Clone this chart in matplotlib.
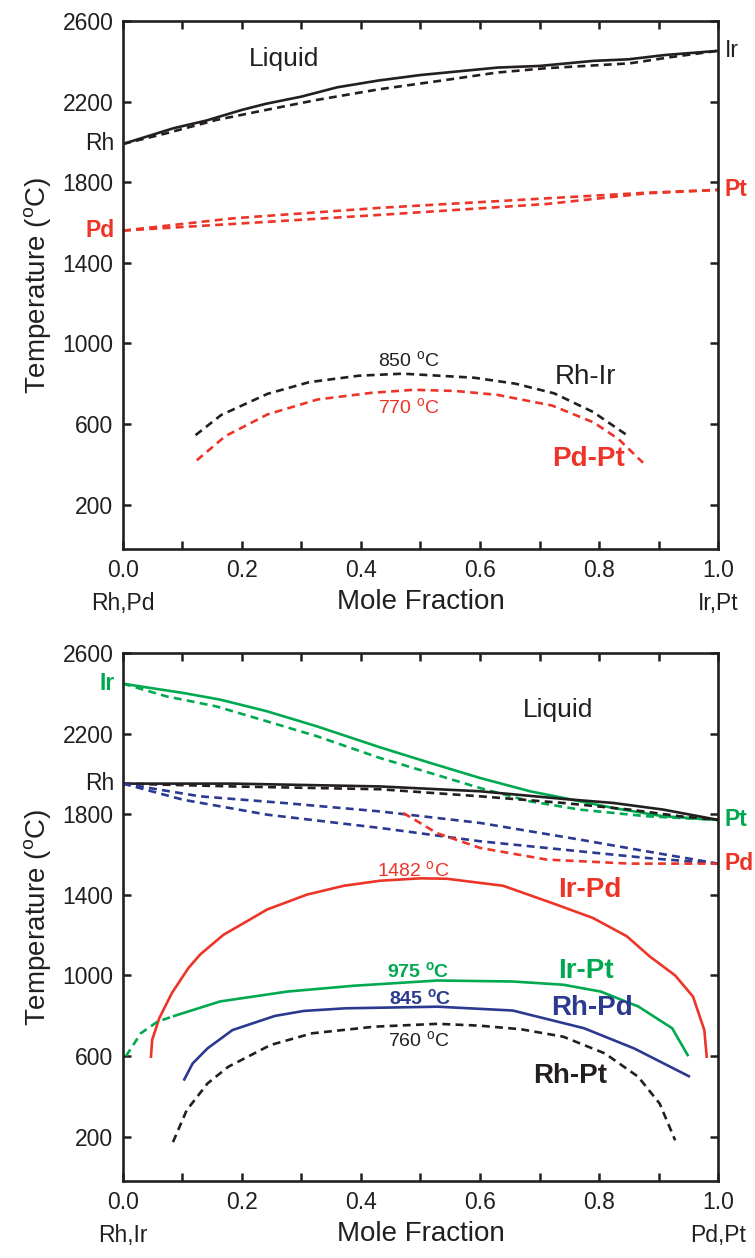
import matplotlib
matplotlib.use("Agg")
import matplotlib.pyplot as plt
from matplotlib.ticker import MultipleLocator, FixedLocator

plt.rcParams['font.family'] = ['Liberation Sans', 'DejaVu Sans']
plt.rcParams['mathtext.default'] = 'regular'

RED = '#ec3528'
GREEN = '#00a94f'
BLUE = '#2b3990'
BLACK = '#231f20'

# ---- upper panel: Rh-Ir and Pd-Pt ----
rhir_liq_x = [0, 0.085, 0.14, 0.2, 0.24, 0.3, 0.36, 0.43, 0.5, 0.63, 0.7, 0.79, 0.85, 0.91, 1.0]
rhir_liq_t = [1990, 2068, 2106, 2159, 2189, 2225, 2271, 2305, 2332, 2369, 2377, 2402, 2410, 2431, 2452]
rhir_sol_x = [0, 0.073, 0.157, 0.241, 0.325, 0.43, 0.544, 0.628, 0.712, 0.852, 0.919, 1.0]
rhir_sol_t = [1990, 2043, 2109, 2159, 2208, 2261, 2308, 2344, 2366, 2390, 2420, 2452]

pdpt_x = [0, 0.185, 0.432, 0.712, 0.88, 1.0]
pdpt_liq_t = [1560, 1621, 1673, 1720, 1748, 1762]
pdpt_sol_t = [1560, 1593, 1638, 1692, 1745, 1762]

rhir_gap_x = [0.122, 0.165, 0.243, 0.313, 0.397, 0.47, 0.59, 0.66, 0.725, 0.79, 0.847]
rhir_gap_t = [545, 645, 750, 808, 840, 850, 830, 800, 752, 660, 545]
pdpt_gap_x = [0.124, 0.172, 0.243, 0.327, 0.418, 0.489, 0.559, 0.629, 0.721, 0.791, 0.833, 0.874]
pdpt_gap_t = [420, 540, 648, 722, 755, 770, 764, 745, 692, 608, 525, 408]

# ---- lower panel: Ir-Pt, Rh-Pt, Rh-Pd, Ir-Pd ----
irpt_liq_x = [0, 0.045, 0.101, 0.163, 0.242, 0.326, 0.432, 0.516, 0.6, 0.684, 0.74, 0.824, 0.908, 1.0]
irpt_liq_t = [2448, 2427, 2402, 2369, 2311, 2236, 2132, 2055, 1980, 1914, 1881, 1831, 1790, 1772]
irpt_sol_x = [0, 0.073, 0.157, 0.242, 0.326, 0.432, 0.516, 0.6, 0.684, 0.768, 0.88, 1.0]
irpt_sol_t = [2448, 2385, 2335, 2261, 2187, 2079, 2005, 1930, 1864, 1823, 1790, 1772]

rhpt_liq_x = [0, 0.185, 0.432, 0.6, 0.74, 0.824, 0.908, 1.0]
rhpt_liq_t = [1952, 1952, 1938, 1914, 1876, 1856, 1823, 1772]
rhpt_sol_x = [0, 0.185, 0.432, 0.6, 0.74, 0.852, 0.936, 1.0]
rhpt_sol_t = [1952, 1938, 1924, 1889, 1856, 1823, 1790, 1772]

rhpd_liq_x = [0, 0.129, 0.27, 0.432, 0.6, 0.768, 0.88, 1.0]
rhpd_liq_t = [1952, 1889, 1856, 1814, 1757, 1674, 1616, 1555]
rhpd_sol_x = [0, 0.101, 0.242, 0.432, 0.6, 0.768, 0.88, 1.0]
rhpd_sol_t = [1952, 1872, 1798, 1732, 1666, 1616, 1583, 1555]

irpd_liq_x = [0.471, 0.488, 0.527, 0.6, 0.712, 0.852, 1.0]
irpd_liq_t = [1806, 1777, 1707, 1633, 1575, 1555, 1555]

irpd_gap_x = [0.047, 0.049, 0.061, 0.082, 0.11, 0.13, 0.169, 0.213, 0.242, 0.309, 0.371,
              0.432, 0.5, 0.544, 0.639, 0.729, 0.79, 0.847, 0.885, 0.928, 0.958, 0.977, 0.981]
irpd_gap_t = [597, 680, 788, 912, 1037, 1105, 1202, 1277, 1327, 1401, 1445,
              1470, 1482, 1480, 1445, 1351, 1285, 1194, 1095, 1000, 895, 729, 597]

irpt_gap_x = [0.086, 0.163, 0.276, 0.388, 0.529, 0.655, 0.74, 0.803, 0.866, 0.923, 0.949]
irpt_gap_t = [799, 871, 920, 949, 975, 970, 954, 920, 846, 738, 605]
irpt_gap_tail_x = [0.005, 0.03, 0.058, 0.086]
irpt_gap_tail_t = [600, 713, 771, 799]

rhpd_gap_x = [0.103, 0.117, 0.142, 0.184, 0.255, 0.304, 0.374, 0.529, 0.655, 0.775, 0.859, 0.951]
rhpd_gap_t = [484, 563, 638, 729, 799, 824, 837, 845, 826, 738, 638, 500]

rhpt_gap_x = [0.084, 0.107, 0.142, 0.177, 0.248, 0.318, 0.423, 0.529, 0.599, 0.669, 0.74,
              0.81, 0.866, 0.902, 0.928]
rhpt_gap_t = [173, 331, 464, 547, 655, 713, 746, 760, 751, 733, 696, 613, 497, 364, 182]

yticks = [200, 600, 1000, 1400, 1800, 2200, 2600]
xticks = [0.0, 0.2, 0.4, 0.6, 0.8, 1.0]

LW = 1.9
DASH = (0, (3, 2))
TICK_FS = 16.5
NAME_FS = 20
TEMP_FS = 14

fig = plt.figure(figsize=(7.55, 12.58), dpi=100)
ax1 = fig.add_axes([0.1629, 0.5636, 0.7881, 0.4197])
ax2 = fig.add_axes([0.1629, 0.0612, 0.7881, 0.4197])


def style_axes(ax, left_label, right_label):
    ax.set_xlim(0, 1)
    ax.set_ylim(-20, 2600)
    ax.xaxis.set_major_locator(FixedLocator(xticks))
    ax.xaxis.set_minor_locator(MultipleLocator(0.1))
    ax.yaxis.set_major_locator(FixedLocator(yticks))
    ax.set_xticklabels([f'{v:.1f}' for v in xticks])
    ax.tick_params(which='both', direction='in', top=True, right=True,
                   length=6, width=1.8, color=BLACK, labelcolor=BLACK,
                   labelsize=TICK_FS, pad=7)
    for s in ax.spines.values():
        s.set_linewidth(1.9)
        s.set_color(BLACK)
    ax.set_ylabel(r'Temperature ($^{o}$C)', fontsize=20, color=BLACK, labelpad=7)
    ax.set_xlabel('Mole Fraction', fontsize=20, color=BLACK, labelpad=5)
    ax.annotate(left_label, xy=(0, 0), xycoords='axes fraction', xytext=(0, -39),
                textcoords='offset points', ha='center', va='center',
                fontsize=TICK_FS, color=BLACK)
    ax.annotate(right_label, xy=(1, 0), xycoords='axes fraction', xytext=(0, -39),
                textcoords='offset points', ha='center', va='center',
                fontsize=TICK_FS, color=BLACK)


def end_label(ax, x, t, text, color, bold, side):
    off = -6 if side == 'left' else 5
    ax.annotate(text, xy=(x, t), xycoords='data', xytext=(off, 0),
                textcoords='offset points', ha='right' if side == 'left' else 'left',
                va='center', fontsize=TICK_FS, color=color,
                fontweight='bold' if bold else 'normal', annotation_clip=False)


# upper panel
style_axes(ax1, 'Rh,Pd', 'Ir,Pt')
ax1.plot(rhir_liq_x, rhir_liq_t, color=BLACK, lw=LW)
ax1.plot(rhir_sol_x, rhir_sol_t, color=BLACK, lw=LW, ls=DASH)
ax1.plot(pdpt_x, pdpt_liq_t, color=RED, lw=LW, ls=DASH)
ax1.plot(pdpt_x, pdpt_sol_t, color=RED, lw=LW, ls=DASH)
ax1.plot(rhir_gap_x, rhir_gap_t, color=BLACK, lw=LW, ls=DASH)
ax1.plot(pdpt_gap_x, pdpt_gap_t, color=RED, lw=LW, ls=DASH)

end_label(ax1, 0, rhir_liq_t[0], 'Rh', BLACK, False, 'left')
end_label(ax1, 1, rhir_liq_t[-1], 'Ir', BLACK, False, 'right')
end_label(ax1, 0, pdpt_liq_t[0], 'Pd', RED, True, 'left')
end_label(ax1, 1, pdpt_liq_t[-1], 'Pt', RED, True, 'right')

ax1.text(0.27, 2413, 'Liquid', fontsize=19, color=BLACK, ha='center', va='center')
ax1.text(0.48, 917, r'850 $^{o}$C', fontsize=TEMP_FS, color=BLACK, ha='center', va='center')
ax1.text(0.48, 683, r'770 $^{o}$C', fontsize=TEMP_FS, color=RED, ha='center', va='center')
ax1.text(0.777, 833, 'Rh-Ir', fontsize=NAME_FS, color=BLACK, ha='center', va='center')
ax1.text(0.783, 425, 'Pd-Pt', fontsize=NAME_FS, color=RED, ha='center', va='center',
         fontweight='bold')

# lower panel
style_axes(ax2, 'Rh,Ir', 'Pd,Pt')
ax2.plot(irpt_liq_x, irpt_liq_t, color=GREEN, lw=LW)
ax2.plot(irpt_sol_x, irpt_sol_t, color=GREEN, lw=LW, ls=DASH)
ax2.plot(rhpt_liq_x, rhpt_liq_t, color=BLACK, lw=LW)
ax2.plot(rhpt_sol_x, rhpt_sol_t, color=BLACK, lw=LW, ls=DASH)
ax2.plot(rhpd_liq_x, rhpd_liq_t, color=BLUE, lw=LW, ls=DASH)
ax2.plot(rhpd_sol_x, rhpd_sol_t, color=BLUE, lw=LW, ls=DASH)
ax2.plot(irpd_liq_x, irpd_liq_t, color=RED, lw=LW, ls=DASH)

ax2.plot(irpd_gap_x, irpd_gap_t, color=RED, lw=LW)
ax2.plot(irpt_gap_x, irpt_gap_t, color=GREEN, lw=LW)
ax2.plot(irpt_gap_tail_x, irpt_gap_tail_t, color=GREEN, lw=LW, ls=DASH)
ax2.plot(rhpd_gap_x, rhpd_gap_t, color=BLUE, lw=LW)
ax2.plot(rhpt_gap_x, rhpt_gap_t, color=BLACK, lw=LW, ls=DASH)

end_label(ax2, 0, irpt_liq_t[0], 'Ir', GREEN, True, 'left')
end_label(ax2, 0, rhpt_liq_t[0], 'Rh', BLACK, False, 'left')
end_label(ax2, 1, irpt_liq_t[-1], 'Pt', GREEN, True, 'right')
end_label(ax2, 1, rhpd_liq_t[-1], 'Pd', RED, True, 'right')

ax2.text(0.732, 2319, 'Liquid', fontsize=19, color=BLACK, ha='center', va='center')
ax2.text(0.488, 1525, r'1482 $^{o}$C', fontsize=TEMP_FS, color=RED, ha='center', va='center')
ax2.text(0.785, 1426, 'Ir-Pd', fontsize=NAME_FS, color=RED, ha='center', va='center',
         fontweight='bold')
ax2.text(0.497, 1020, r'975 $^{o}$C', fontsize=TEMP_FS, color=GREEN, ha='center',
         va='center', fontweight='bold')
ax2.text(0.778, 1020, 'Ir-Pt', fontsize=NAME_FS, color=GREEN, ha='center', va='center',
         fontweight='bold')
ax2.text(0.5, 887, r'845 $^{o}$C', fontsize=TEMP_FS, color=BLUE, ha='center', va='center',
         fontweight='bold')
ax2.text(0.788, 837, 'Rh-Pd', fontsize=NAME_FS, color=BLUE, ha='center', va='center',
         fontweight='bold')
ax2.text(0.497, 680, r'760 $^{o}$C', fontsize=TEMP_FS, color=BLACK, ha='center', va='center')
ax2.text(0.752, 500, 'Rh-Pt', fontsize=NAME_FS, color=BLACK, ha='center', va='center',
         fontweight='bold')

fig.savefig('out.png', dpi=100)
